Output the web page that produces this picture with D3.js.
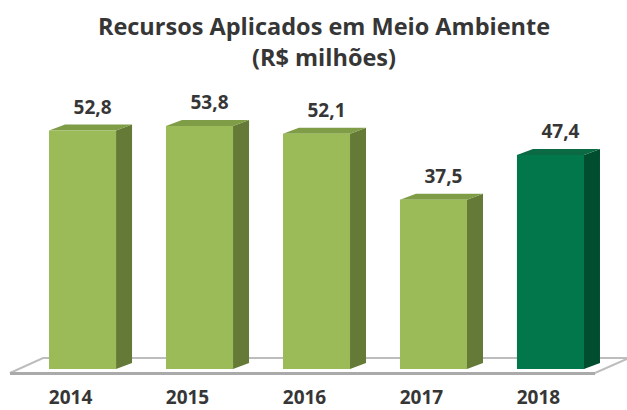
<!DOCTYPE html>
<html lang="pt">
<head>
<meta charset="utf-8">
<title>Recursos Aplicados em Meio Ambiente</title>
<script src="https://d3js.org/d3.v7.min.js"></script>
<style>
  body { margin: 0; background: #fff; }
  text { font-family: "Open Sans", "DejaVu Sans", sans-serif; font-weight: bold; fill: #363636; }
</style>
</head>
<body>
<div id="chart"></div>
<script>
// data
var years = ['2014', '2015', '2016', '2017', '2018'];
var values = [52.8, 53.8, 52.1, 37.5, 47.4];
var valueLabels = ['52,8', '53,8', '52,1', '37,5', '47,4'];
var titleLines = ['Recursos Aplicados em Meio Ambiente', '(R$ milhões)'];

var width = 627, height = 410;
var depthX = 16, depthY = -6;   // 3d offset of the bars

var svg = d3.select('#chart').append('svg')
    .attr('width', width)
    .attr('height', height);

var x = d3.scaleBand()
    .domain(years)
    .range([0, 633])
    .paddingInner(0.427)
    .paddingOuter(0.419);

var y = d3.scaleLinear()
    .domain([0, 60])
    .range([369, 98]);

// colours: [front, side, top]
var light = ['#9bbb59', '#647a36', '#7f9c47'];
var dark = ['#02774b', '#004d2f', '#0b6a43'];

// floor
var floor = svg.append('g');
floor.append('polygon')
    .attr('points', [[10, 373], [595, 373], [629, 358], [43, 358]].join(' '))
    .attr('fill', '#fff')
    .attr('stroke', '#bdbdbd')
    .attr('stroke-width', 2);
floor.append('line')
    .attr('x1', 10).attr('x2', 595)
    .attr('y1', 373.5).attr('y2', 373.5)
    .attr('stroke', '#aaaaaa')
    .attr('stroke-width', 3);

// bars
var bars = svg.append('g').selectAll('g')
    .data(years)
    .enter()
    .append('g');

bars.each(function (d, i) {
    var g = d3.select(this);
    var c = i == years.length - 1 ? dark : light;
    var x0 = x(d), x1 = x(d) + x.bandwidth();
    var yt = y(values[i]), yb = y(0);
    // side
    g.append('polygon')
        .attr('points', [[x1, yt], [x1 + depthX, yt + depthY], [x1 + depthX, yb + depthY], [x1, yb]].join(' '))
        .attr('fill', c[1]);
    // top
    g.append('polygon')
        .attr('points', [[x0, yt], [x0 + depthX, yt + depthY], [x1 + depthX, yt + depthY], [x1, yt]].join(' '))
        .attr('fill', c[2]);
    // front
    g.append('rect')
        .attr('x', x0)
        .attr('y', yt)
        .attr('width', x.bandwidth())
        .attr('height', yb - yt)
        .attr('fill', c[0]);
});

// value labels
svg.append('g').selectAll('text')
    .data(years)
    .enter()
    .append('text')
    .attr('x', function (d) { return x(d) + x.bandwidth() / 2 + 10; })
    .attr('y', function (d, i) { return y(values[i]) - 17; })
    .attr('text-anchor', 'middle')
    .style('font-size', '19px')
    .text(function (d, i) { return valueLabels[i]; });

// year labels
svg.append('g').selectAll('text')
    .data(years)
    .enter()
    .append('text')
    .attr('x', function (d) { return x(d) + x.bandwidth() / 2 - 12; })
    .attr('y', 404)
    .attr('text-anchor', 'middle')
    .style('font-size', '19px')
    .text(function (d) { return d; });

// title
svg.append('g').selectAll('text')
    .data(titleLines)
    .enter()
    .append('text')
    .attr('x', 324)
    .attr('y', function (d, i) { return 35 + i * 31; })
    .attr('text-anchor', 'middle')
    .style('font-size', '23.5px')
    .text(function (d) { return d; });
</script>
</body>
</html>
